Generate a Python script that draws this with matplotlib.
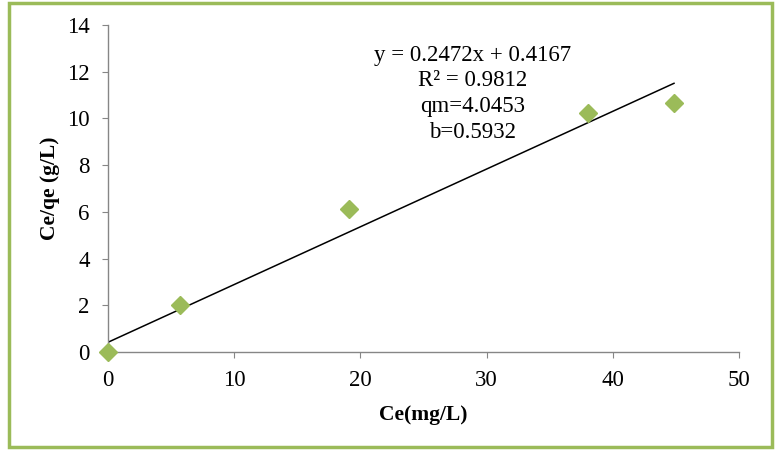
import matplotlib.pyplot as plt
import numpy as np
from matplotlib.patches import Rectangle

ce = [0, 5.7, 19.1, 38.0, 44.85]
ce_qe = [0, 2.01, 6.12, 10.22, 10.66]
slope, intercept = 0.2472, 0.4167
eq_lines = ["y = 0.2472x + 0.4167", "R² = 0.9812", "qm=4.0453", "b=0.5932"]

plt.rcParams['font.family'] = ['Liberation Serif', 'DejaVu Serif']

green = '#9BBB59'
fig = plt.figure(figsize=(7.76, 4.5), dpi=100)
ax = fig.add_axes([108 / 776, 1 - 352 / 450, (739 - 108) / 776, (352 - 25) / 450])

x_fit = np.array([0, max(ce)])
ax.plot(x_fit, slope * x_fit + intercept, color='black', lw=1.1, zorder=2)
ax.plot(ce, ce_qe, 'D', color=green, ms=9, mec=green, zorder=3, clip_on=False)

ax.set_xlim(0, 50)
ax.set_ylim(0, 14)
ax.set_xticks(range(0, 51, 10))
ax.set_yticks(range(0, 15, 2))
for s in ['top', 'right']:
    ax.spines[s].set_visible(False)
for s in ['left', 'bottom']:
    ax.spines[s].set_color('#868686')
    ax.spines[s].set_linewidth(1.0)
ax.tick_params(direction='out', length=4.3, color='#868686', labelsize=16.5)
ax.tick_params(axis='y', pad=9)
ax.tick_params(axis='x', pad=9)

ax.set_xlabel("Ce(mg/L)", fontsize=15.5, fontweight='bold', labelpad=10)
ax.set_ylabel("Ce/qe (g/L)", fontsize=15.5, fontweight='bold', labelpad=5)

for i, t in enumerate(eq_lines):
    fig.text(473 / 776, 1 - (55 + i * 25.7) / 450, t, ha='center', va='center', fontsize=16.5)

fig.patches.append(Rectangle((9 / 776, 3 / 450), 763 / 776, 444 / 450, transform=fig.transFigure,
                             fill=False, ec=green, lw=2.5))

plt.savefig("out.png", dpi=100)
